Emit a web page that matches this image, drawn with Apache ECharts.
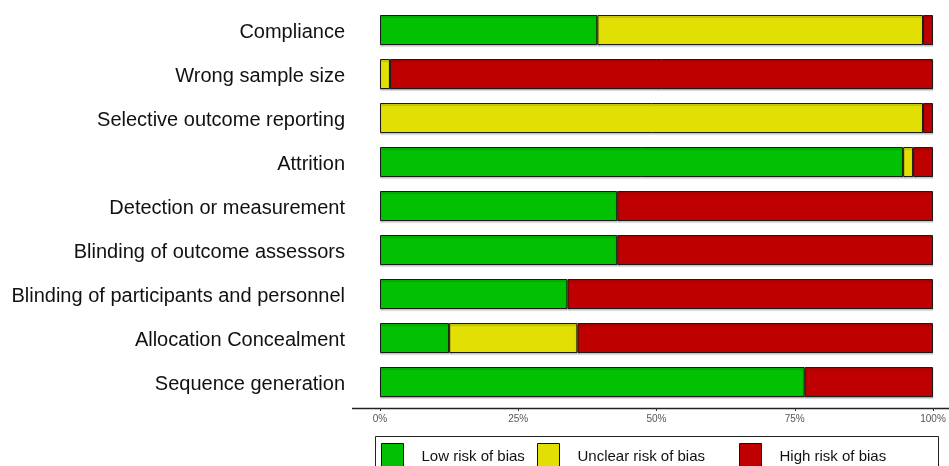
<!DOCTYPE html>
<html>
<head>
<meta charset="utf-8">
<script src="https://cdn.jsdelivr.net/npm/echarts@6/dist/echarts.min.js"></script>
<style>
  html, body { margin: 0; padding: 0; background: #fff; }
  #chart { width: 949px; height: 466px; }
</style>
</head>
<body>
<div id="chart"></div>
<script>
const categories = [
  "Compliance",
  "Wrong sample size",
  "Selective outcome reporting",
  "Attrition",
  "Detection or measurement",
  "Blinding of outcome assessors",
  "Blinding of participants and personnel",
  "Allocation Concealment",
  "Sequence generation",
];
const lowRisk = [39.3, 0, 0, 94.6, 42.9, 42.9, 33.9, 12.5, 76.8];
const unclearRisk = [58.9, 1.8, 98.2, 1.8, 0, 0, 0, 23.2, 0];
const highRisk = [1.8, 98.2, 1.8, 3.6, 57.1, 57.1, 66.1, 64.3, 23.2];
const tickValues = [0, 25, 50, 75, 100];

const GREEN = "#02c002";
const YELLOW = "#e1df04";
const RED = "#be0000";

const chart = echarts.init(document.getElementById("chart"));

// zero-width segments would still draw a border, so skip them
const clean = (arr) => arr.map((v) => (v > 0 ? v : null));

const barStyle = (color) => ({
  color: color,
  borderColor: "#1a1a1a",
  borderWidth: 1,
  shadowColor: "rgba(0,0,0,0.25)",
  shadowOffsetY: 1.5,
  shadowBlur: 1,
});

const legendBase = {
  top: 443,
  orient: "horizontal",
  padding: 0,
  itemWidth: 22,
  itemHeight: 26,
  icon: "rect",
  textStyle: {
    fontFamily: "Liberation Sans",
    fontSize: 15,
    color: "#111",
    padding: [0, 0, 0, 13],
  },
  itemStyle: { borderColor: "#111", borderWidth: 1 },
  selectedMode: false,
};

const option = {
  animation: false,
  backgroundColor: "#fff",
  grid: { left: 380, right: 16, top: 8, height: 396 },
  xAxis: {
    type: "value",
    min: tickValues[0],
    max: tickValues[tickValues.length - 1],
    interval: 25,
    offset: 4,
    axisLine: { show: false },
    axisTick: { show: true, length: 3, lineStyle: { color: "#333" } },
    splitLine: { show: false },
    axisLabel: {
      formatter: "{value}%",
      fontFamily: "Liberation Sans",
      fontSize: 10,
      color: "#555",
      margin: 6,
    },
  },
  yAxis: {
    type: "category",
    data: categories,
    inverse: true,
    axisLine: { show: false },
    axisTick: { show: false },
    axisLabel: {
      formatter: "{v|{value}}",
      margin: 35,
      rich: {
        v: {
          fontFamily: "Liberation Sans",
          fontSize: 20,
          color: "#111",
          padding: [4, 0, 0, 0],
        },
      },
    },
  },
  legend: [
    Object.assign({}, legendBase, { left: 381, data: ["Low risk of bias"] }),
    Object.assign({}, legendBase, { left: 537, data: ["Unclear risk of bias"] }),
    Object.assign({}, legendBase, { left: 739, data: ["High risk of bias"] }),
  ],
  graphic: [
    {
      type: "line",
      shape: { x1: 352, y1: 408.5, x2: 949, y2: 408.5 },
      style: { stroke: "#222", lineWidth: 1.5 },
    },
    {
      type: "rect",
      shape: { x: 375.5, y: 436.5, width: 563, height: 60 },
      style: { fill: "none", stroke: "#222", lineWidth: 1 },
    },
  ],
  series: [
    {
      name: "Low risk of bias",
      type: "bar",
      stack: "risk",
      barWidth: 30,
      itemStyle: barStyle(GREEN),
      data: clean(lowRisk),
    },
    {
      name: "Unclear risk of bias",
      type: "bar",
      stack: "risk",
      barWidth: 30,
      itemStyle: barStyle(YELLOW),
      data: clean(unclearRisk),
    },
    {
      name: "High risk of bias",
      type: "bar",
      stack: "risk",
      barWidth: 30,
      itemStyle: barStyle(RED),
      data: clean(highRisk),
    },
  ],
};

chart.setOption(option);
</script>
</body>
</html>
